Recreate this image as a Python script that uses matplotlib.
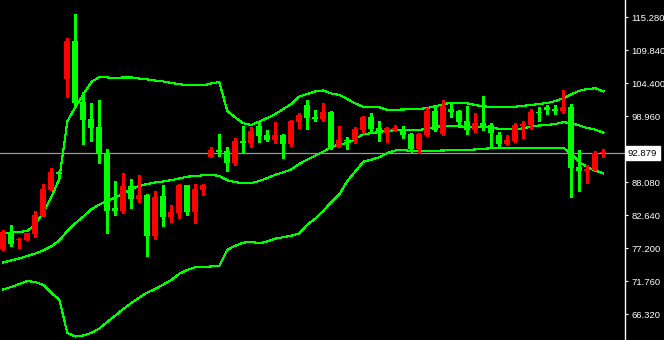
import numpy as np
from matplotlib import pyplot as plt

# daily candles (red = up, green = down)
opens = [77.13, 79.89, 78.52, 78.62, 79.61, 82.57, 86.86, 89.78, 105.11, 111.37,
         101.27, 98.51, 97.20, 92.86, 83.84, 83.40, 87.47, 85.33, 85.99, 79.28,
         85.82, 82.41, 83.07, 87.63, 83.23, 86.86, 92.30, 93.40, 93.24, 91.31,
         94.89, 94.51, 97.36, 95.87, 95.05, 95.87, 94.44, 98.02, 100.82, 98.85,
         98.51, 99.72, 93.95, 95.05, 95.05, 96.70, 98.85, 97.03, 96.16, 96.70,
         96.87, 96.04, 93.57, 95.87, 99.83, 96.04, 100.16, 99.83, 98.18, 96.70,
         97.86, 97.53, 95.87, 94.39, 94.89, 97.36, 97.53, 99.72, 100.49, 100.16,
         99.83, 100.49, 90.65, 89.99, 90.16, 92.85]
highs = [80.22, 81.04, 78.90, 79.77, 83.35, 87.80, 90.39, 89.94, 111.92, 115.82,
         102.91, 101.15, 101.65, 93.57, 88.29, 89.61, 88.62, 89.28, 86.10, 86.65,
         87.63, 84.34, 87.85, 87.70, 87.75, 87.80, 93.95, 96.04, 93.85, 95.38,
         97.41, 97.20, 98.07, 96.70, 98.02, 96.04, 98.35, 99.50, 101.65, 100.00,
         101.20, 99.83, 97.36, 95.55, 97.25, 99.01, 99.50, 98.18, 97.25, 97.53,
         97.36, 96.21, 96.21, 100.28, 100.54, 101.65, 100.99, 100.00, 100.66, 99.50,
         102.31, 97.80, 96.37, 95.87, 97.86, 98.23, 100.16, 100.49, 100.82, 100.82,
         103.30, 101.04, 93.40, 90.88, 93.29, 93.52]
lows = [76.92, 77.63, 77.25, 78.52, 79.11, 82.50, 86.80, 88.79, 102.19, 100.54,
        94.44, 94.94, 91.31, 79.77, 82.74, 83.07, 83.89, 84.88, 75.98, 78.73,
        80.92, 81.58, 82.24, 82.69, 81.42, 85.99, 92.25, 92.42, 89.99, 90.88,
        93.07, 93.95, 94.77, 94.93, 94.61, 92.13, 94.11, 97.08, 96.92, 98.18,
        98.18, 93.52, 93.85, 93.62, 94.51, 96.16, 96.53, 94.94, 94.77, 96.53,
        95.43, 93.29, 92.96, 95.71, 96.53, 95.87, 98.89, 97.36, 96.04, 96.37,
        96.70, 93.73, 93.85, 94.22, 94.72, 95.43, 96.87, 98.18, 99.39, 99.39,
        99.46, 85.71, 86.69, 88.01, 90.10, 92.30]
closes = [79.89, 77.96, 78.78, 79.67, 82.69, 86.98, 89.78, 89.50, 111.37, 101.20,
          98.40, 97.08, 92.86, 83.40, 83.40, 87.47, 85.33, 85.99, 79.28, 85.66,
          82.41, 83.18, 87.63, 83.23, 86.98, 87.63, 93.40, 93.12, 91.31, 94.89,
          94.51, 96.53, 95.71, 95.05, 95.87, 94.44, 98.18, 99.17, 98.73, 98.51,
          99.67, 93.95, 95.05, 94.84, 96.87, 98.85, 96.87, 96.16, 97.03, 97.03,
          95.87, 93.57, 96.04, 99.83, 96.70, 100.71, 99.67, 98.02, 96.70, 97.86,
          97.41, 96.21, 94.39, 95.05, 97.53, 97.69, 99.72, 99.50, 100.00, 99.83,
          100.49, 90.44, 89.99, 90.32, 92.91, 92.879]

# bollinger bands
upper_band = [79.72, 79.80, 79.89, 80.05, 81.12, 83.10, 85.66, 88.62, 98.10, 100.49,
              102.55, 104.61, 105.44, 105.36, 105.27, 105.36, 105.36, 105.19, 105.03, 104.86,
              104.70, 104.45, 104.28, 104.07, 104.07, 104.07, 104.37, 104.61, 99.83, 98.76,
              97.81, 97.53, 98.10, 98.68, 99.34, 100.16, 100.99, 102.22, 102.64, 103.05,
              103.21, 102.72, 102.47, 101.81, 101.07, 100.53, 100.49, 100.44, 100.00, 100.05,
              100.08, 100.13, 100.16, 100.33, 100.61, 100.94, 101.20, 101.15, 101.10, 100.82,
              100.58, 100.54, 100.54, 100.54, 100.54, 100.69, 100.82, 100.99, 101.15, 101.48,
              101.93, 102.59, 103.16, 103.46, 103.58, 103.08]
middle_band = [74.86, 75.19, 75.52, 75.93, 76.34, 76.84, 77.50, 78.49, 80.05, 81.29,
               82.44, 83.60, 84.42, 85.00, 85.57, 86.23, 86.98, 87.47, 87.80, 88.05,
               88.21, 88.43, 88.71, 89.00, 89.12, 89.23, 89.33, 89.12, 88.41, 88.10,
               87.92, 87.96, 88.29, 88.79, 89.32, 89.73, 90.19, 91.13, 91.81, 92.47,
               93.12, 93.90, 94.31, 94.56, 95.22, 96.04, 96.16, 96.37, 96.57, 96.65,
               96.70, 96.70, 96.70, 96.95, 97.20, 97.36, 97.33, 97.28, 97.25, 97.25,
               97.25, 97.11, 96.87, 96.87, 96.87, 96.95, 97.28, 97.44, 97.53, 97.69,
               97.97, 97.86, 97.44, 97.03, 96.75, 96.26]
lower_band = [70.41, 70.82, 71.31, 71.81, 71.64, 71.15, 69.83, 68.76, 63.24, 62.66,
              62.83, 63.24, 63.98, 65.05, 66.12, 67.19, 68.18, 69.09, 69.91, 70.49,
              71.23, 71.97, 73.01, 73.62, 74.08, 74.15, 74.20, 74.28, 76.95, 77.63,
              78.12, 78.27, 78.02, 78.32, 78.78, 79.03, 79.28, 79.64, 81.09, 82.08,
              83.35, 84.83, 86.07, 88.29, 89.86, 91.48, 91.81, 92.20, 92.91, 93.32,
              93.44, 93.16, 93.19, 93.24, 93.29, 93.32, 93.36, 93.37, 93.40, 93.49,
              93.60, 93.69, 93.69, 93.69, 93.69, 93.69, 93.69, 93.69, 93.69, 93.69,
              93.78, 92.75, 91.43, 90.60, 89.99, 89.56]

price_ticks = [115.28, 109.84, 104.40, 98.96, 93.52, 88.08, 82.64, 77.20, 71.76, 66.32]
last_price = 92.879

UP = '#ff0000'
DOWN = '#00ff00'
BAND = '#00ff00'

fig = plt.figure(figsize=(6.64, 3.40), dpi=100, facecolor='black')
ax = fig.add_axes([0, 0, 625 / 664, 1])
ax.set_facecolor('black')

o = np.array(opens)
c = np.array(closes)
x = np.arange(len(o))
up = c >= o
cols = np.where(up, UP, DOWN)

# wicks
ax.vlines(x, lows, highs, colors=cols, lw=0.8, antialiased=False, zorder=3)
# bodies (at least one pixel tall)
body = np.maximum(np.abs(c - o), 0.17)
ax.bar(x, body, bottom=np.minimum(o, c), width=0.75, color=cols,
       linewidth=0, antialiased=False, zorder=4)

for band in (upper_band, middle_band, lower_band):
    ax.plot(x, band, color=BAND, lw=0.8, antialiased=False, zorder=2)

ax.axhline(last_price, color='#9a9a9a', lw=0.9, zorder=1)

ax.set_xlim(-3.3 / 8, (625 - 3.3) / 8)
ax.set_ylim(62.08, 118.13)

for s in ('left', 'top', 'bottom'):
    ax.spines[s].set_visible(False)
ax.spines['right'].set_color('white')
ax.spines['right'].set_linewidth(1.0)

ax.set_xticks([])
ax.yaxis.tick_right()
ax.set_yticks(price_ticks)
ax.set_yticklabels(['%.3f' % t for t in price_ticks])
ax.tick_params(axis='y', colors='white', length=2.5, width=0.8, pad=2,
               labelsize=6.8)
for lab in ax.get_yticklabels():
    lab.set_fontfamily('Liberation Sans')

# current price label
ax.annotate('%.3f' % last_price, xy=(1, last_price),
            xycoords=('axes fraction', 'data'), xytext=(3, 0),
            textcoords='offset pixels', va='center', ha='left',
            fontsize=6.8, family='Liberation Sans', color='black',
            bbox=dict(boxstyle='square,pad=0.25', fc='white', ec='white'),
            annotation_clip=False, zorder=10)

fig.savefig('out.png', dpi=100, facecolor='black')
